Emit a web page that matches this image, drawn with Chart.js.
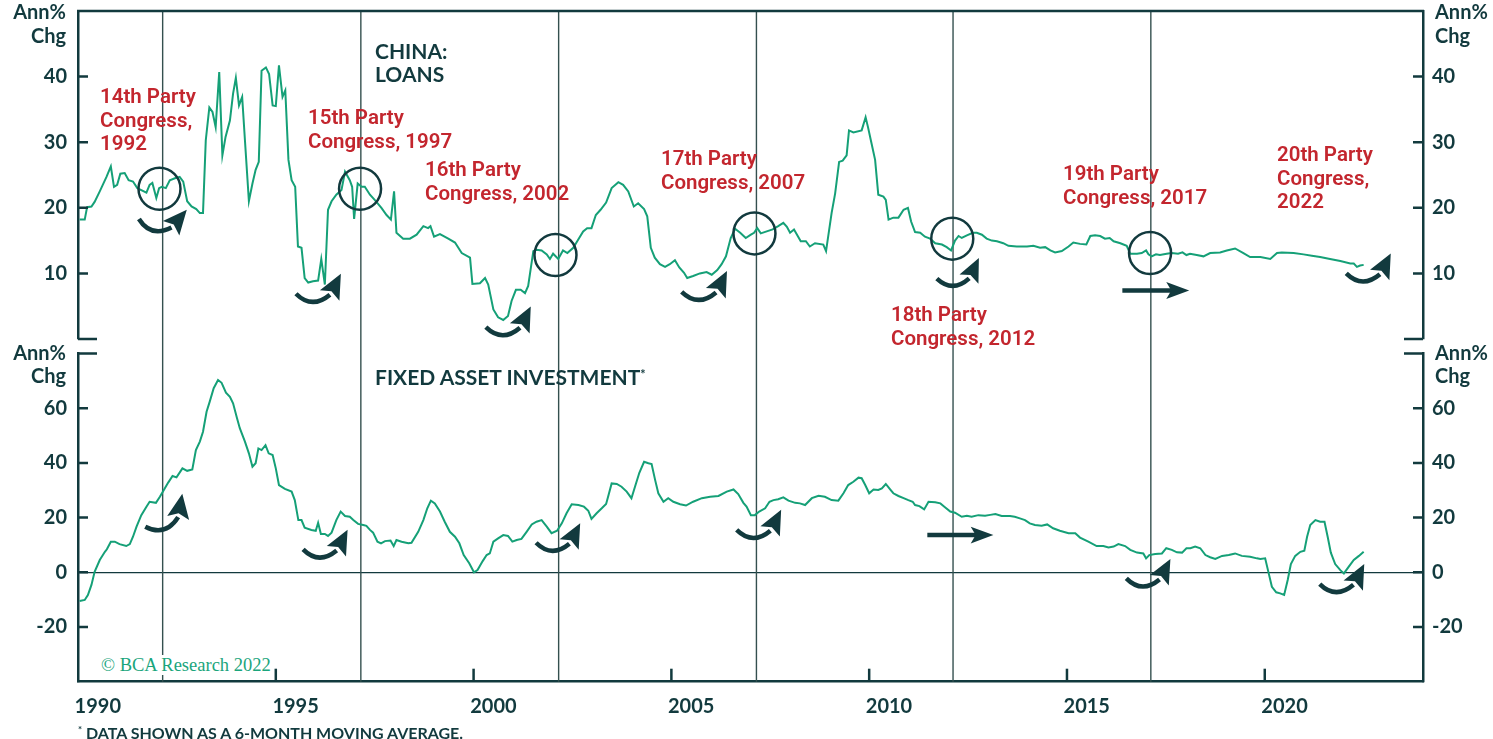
<!DOCTYPE html>
<html>
<head>
<meta charset="utf-8">
<script src="https://cdn.jsdelivr.net/npm/chart.js@4.4.0/dist/chart.umd.min.js"></script>
<style>
  body { margin: 0; background: #fff; }
  #wrap { position: relative; width: 1493px; height: 739px; overflow: hidden; font-family: Lato, sans-serif; color: #123a3e; }
  .box { position: absolute; left: 0; width: 1493px; }
  .t { position: absolute; white-space: nowrap; }
  .unit { font-weight: 700; font-size: 20px; line-height: 24px; }
  .title { font-weight: 700; font-size: 21px; line-height: 23px; }
  .red { color: #c3262e; font-family: Roboto, sans-serif; font-weight: 600; font-size: 20.5px; line-height: 23.5px; }
  .copy { font-family: "Liberation Serif", serif; font-size: 18.5px; color: #1aa57c; background: #fff; line-height: 20px; padding: 0 2px; }
  .foot { font-weight: 700; font-size: 16px; line-height: 16px; }
  sup { font-size: 60%; vertical-align: 6px; }
</style>
</head>
<body>
<div id="wrap">
  <div class="box" style="top:0;height:346px"><canvas id="loans"></canvas></div>
  <div class="box" style="top:346px;height:393px"><canvas id="fai"></canvas></div>

  <div class="t unit" style="left:0;width:66px;text-align:right;top:-1px">Ann%<br>Chg</div>
  <div class="t unit" style="left:1435px;top:-1px">Ann%<br>Chg</div>
  <div class="t unit" style="left:0;width:66px;text-align:right;top:341px;line-height:23px">Ann%<br>Chg</div>
  <div class="t unit" style="left:1435px;top:341px;line-height:23px">Ann%<br>Chg</div>

  <div class="t title" style="left:375px;top:39px">CHINA:<br>LOANS</div>
  <div class="t title" style="left:375px;top:363px">FIXED ASSET INVESTMENT<sup>*</sup></div>

  <div class="t red" style="left:100px;top:85px">14th Party<br>Congress,<br>1992</div>
  <div class="t red" style="left:308px;top:106px">15th Party<br>Congress, 1997</div>
  <div class="t red" style="left:425px;top:158px">16th Party<br>Congress, 2002</div>
  <div class="t red" style="left:661px;top:147px">17th Party<br>Congress, 2007</div>
  <div class="t red" style="left:891px;top:303px">18th Party<br>Congress, 2012</div>
  <div class="t red" style="left:1063px;top:162px">19th Party<br>Congress, 2017</div>
  <div class="t red" style="left:1277px;top:143px">20th Party<br>Congress,<br>2022</div>

  <div class="t copy" style="left:99px;top:655px">© BCA Research 2022</div>
  <div class="t foot" style="left:78px;top:722px"><sup>*</sup> DATA SHOWN AS A 6-MONTH MOVING AVERAGE.</div>
</div>

<script>
// China loans, annual % change
const loansDates = [
  1990.04, 1990.17, 1990.23, 1990.34, 1990.42, 1990.55, 1990.72, 1990.83, 1990.91, 1990.99,
  1991.07, 1991.18, 1991.28, 1991.39, 1991.50, 1991.60, 1991.73, 1991.81, 1991.88, 1991.98,
  1992.05, 1992.12, 1992.22, 1992.32, 1992.45, 1992.57, 1992.66, 1992.76, 1992.87, 1992.99,
  1993.08, 1993.16, 1993.23, 1993.32, 1993.40, 1993.48, 1993.57, 1993.65, 1993.73, 1993.84,
  1993.92, 1993.99, 1994.07, 1994.15, 1994.22, 1994.32, 1994.41, 1994.49, 1994.57, 1994.64,
  1994.75, 1994.83, 1994.92, 1995.00, 1995.08, 1995.17, 1995.24, 1995.32, 1995.40, 1995.49,
  1995.56, 1995.65, 1995.73, 1995.82, 1995.94, 1996.07, 1996.15, 1996.24, 1996.32, 1996.41,
  1996.53, 1996.66, 1996.75, 1996.87, 1996.93, 1996.98, 1997.07, 1997.17, 1997.25, 1997.38,
  1997.50, 1997.67, 1997.80, 1997.91, 1997.99, 1998.05, 1998.22, 1998.39, 1998.56, 1998.73,
  1998.85, 1998.91, 1999.00, 1999.15, 1999.36, 1999.53, 1999.70, 1999.91, 1999.97, 2000.16,
  2000.29, 2000.37, 2000.50, 2000.62, 2000.75, 2000.87, 2000.96, 2001.07, 2001.19, 2001.30,
  2001.38, 2001.51, 2001.59, 2001.72, 2001.85, 2001.93, 2002.01, 2002.14, 2002.26, 2002.37,
  2002.52, 2002.65, 2002.77, 2002.87, 2002.98, 2003.09, 2003.21, 2003.35, 2003.49, 2003.66,
  2003.78, 2003.91, 2004.05, 2004.16, 2004.31, 2004.39, 2004.48, 2004.58, 2004.71, 2004.84,
  2004.96, 2005.09, 2005.20, 2005.32, 2005.40, 2005.55, 2005.72, 2005.89, 2006.02, 2006.16,
  2006.27, 2006.38, 2006.50, 2006.61, 2006.74, 2006.88, 2007.01, 2007.09, 2007.17, 2007.26,
  2007.41, 2007.56, 2007.70, 2007.83, 2007.92, 2008.00, 2008.10, 2008.27, 2008.40, 2008.50,
  2008.63, 2008.84, 2008.91, 2009.05, 2009.14, 2009.24, 2009.33, 2009.43, 2009.49, 2009.60,
  2009.81, 2009.91, 2009.97, 2010.06, 2010.15, 2010.23, 2010.36, 2010.42, 2010.49, 2010.61,
  2010.74, 2010.87, 2010.98, 2011.06, 2011.16, 2011.29, 2011.41, 2011.54, 2011.67, 2011.84,
  2011.96, 2012.07, 2012.17, 2012.26, 2012.34, 2012.47, 2012.62, 2012.72, 2012.85, 2012.97,
  2013.10, 2013.23, 2013.39, 2013.52, 2013.73, 2013.99, 2014.15, 2014.32, 2014.45, 2014.58,
  2014.70, 2014.87, 2015.04, 2015.16, 2015.33, 2015.49, 2015.59, 2015.71, 2015.84, 2015.96,
  2016.08, 2016.18, 2016.35, 2016.51, 2016.60, 2016.77, 2016.89, 2017.00, 2017.06, 2017.14,
  2017.25, 2017.35, 2017.52, 2017.64, 2017.81, 2017.92, 2018.02, 2018.11, 2018.28, 2018.45,
  2018.62, 2018.87, 2019.04, 2019.25, 2019.46, 2019.63, 2019.89, 2020.14, 2020.31, 2020.43,
  2020.73, 2020.98, 2021.19, 2021.40, 2021.65, 2021.91, 2022.16, 2022.25, 2022.33, 2022.41,
  2022.50
];
const loansValues = [
  18.2, 18.2, 20.1, 20.2, 20.9, 22.5, 24.7, 26.3, 23.2, 23.5,
  25.2, 25.3, 24.2, 24.0, 23.0, 22.7, 22.3, 23.5, 23.8, 21.5,
  23.0, 23.2, 23.0, 24.2, 24.5, 24.7, 24.0, 21.0, 20.2, 19.8,
  19.2, 19.2, 30.3, 35.3, 34.6, 32.3, 40.7, 28.0, 30.8, 33.3,
  37.4, 39.8, 35.6, 36.9, 30.3, 21.0, 23.7, 25.8, 27.0, 40.9,
  41.4, 40.4, 35.6, 35.5, 41.7, 36.9, 37.9, 27.3, 24.2, 23.2,
  14.1, 13.9, 9.3, 8.6, 8.8, 8.9, 12.2, 8.3, 19.7, 21.0,
  22.0, 22.7, 25.5, 24.2, 23.2, 18.3, 23.7, 23.2, 23.2, 22.0,
  21.2, 20.0, 18.9, 18.2, 22.5, 16.2, 15.3, 15.3, 15.9, 17.2,
  16.9, 17.2, 15.6, 16.0, 15.3, 14.7, 13.1, 12.4, 8.4, 8.5,
  9.3, 8.3, 4.5, 3.3, 2.9, 3.5, 5.8, 7.5, 7.5, 7.0,
  8.1, 13.4, 13.6, 13.5, 12.9, 12.2, 13.0, 12.2, 13.5, 13.1,
  13.9, 15.2, 16.4, 16.9, 16.9, 18.9, 19.7, 20.8, 23.0, 23.9,
  23.5, 22.5, 20.2, 20.7, 19.8, 18.7, 13.9, 12.4, 11.4, 11.0,
  11.4, 12.0, 10.9, 10.1, 9.3, 9.6, 10.0, 10.2, 9.8, 10.5,
  11.4, 12.6, 15.4, 16.8, 16.2, 15.4, 15.9, 16.2, 16.9, 16.1,
  16.4, 16.7, 17.2, 17.7, 17.1, 16.2, 16.7, 14.9, 14.9, 14.1,
  14.6, 14.4, 13.4, 19.2, 22.2, 27.0, 27.2, 28.0, 31.8, 31.5,
  31.8, 33.8, 32.3, 29.8, 27.3, 22.0, 21.7, 21.2, 18.2, 18.5,
  18.5, 19.7, 20.0, 17.9, 16.3, 16.2, 15.6, 15.3, 14.6, 14.4,
  14.0, 13.5, 15.0, 15.7, 15.4, 15.8, 16.2, 16.2, 15.9, 15.3,
  15.0, 14.9, 14.6, 14.2, 14.1, 14.1, 14.2, 13.9, 14.0, 13.5,
  13.2, 13.4, 14.1, 14.7, 14.5, 14.4, 15.7, 15.8, 15.7, 15.3,
  15.4, 14.9, 14.6, 14.2, 13.0, 13.0, 13.1, 13.5, 12.9, 12.6,
  12.9, 12.8, 13.0, 13.1, 13.0, 13.2, 12.8, 13.0, 12.8, 12.6,
  13.1, 13.2, 13.5, 13.8, 13.1, 12.5, 12.5, 12.2, 13.1, 13.2,
  13.1, 12.9, 12.7, 12.5, 12.2, 11.9, 11.5, 11.5, 11.0, 11.2,
  11.3
];

// China fixed asset investment, annual % change (6-month moving average)
const faiDates = [
  1990.04, 1990.17, 1990.25, 1990.34, 1990.42, 1990.55, 1990.68, 1990.73, 1990.83, 1990.93,
  1991.05, 1991.22, 1991.31, 1991.39, 1991.48, 1991.60, 1991.73, 1991.81, 1991.97, 1992.07,
  1992.17, 1992.28, 1992.39, 1992.49, 1992.64, 1992.76, 1992.89, 1992.98, 1993.08, 1993.16,
  1993.25, 1993.33, 1993.43, 1993.54, 1993.63, 1993.74, 1993.84, 1993.92, 1994.02, 1994.09,
  1994.22, 1994.32, 1994.41, 1994.49, 1994.56, 1994.64, 1994.74, 1994.82, 1994.92, 1995.00,
  1995.08, 1995.23, 1995.40, 1995.48, 1995.57, 1995.65, 1995.73, 1995.90, 1996.01, 1996.07,
  1996.14, 1996.24, 1996.32, 1996.41, 1996.53, 1996.64, 1996.75, 1996.87, 1996.96, 1997.08,
  1997.21, 1997.29, 1997.38, 1997.46, 1997.57, 1997.66, 1997.76, 1997.90, 1997.98, 1998.05,
  1998.18, 1998.35, 1998.43, 1998.60, 1998.73, 1998.83, 1998.92, 1999.02, 1999.15, 1999.27,
  1999.40, 1999.53, 1999.64, 1999.75, 1999.89, 2000.01, 2000.10, 2000.23, 2000.33, 2000.41,
  2000.50, 2000.62, 2000.75, 2000.87, 2000.98, 2001.09, 2001.21, 2001.34, 2001.47, 2001.59,
  2001.72, 2001.85, 2001.97, 2002.11, 2002.23, 2002.35, 2002.48, 2002.65, 2002.79, 2002.90,
  2002.98, 2003.11, 2003.24, 2003.35, 2003.40, 2003.49, 2003.62, 2003.74, 2003.87, 2003.99,
  2004.08, 2004.19, 2004.31, 2004.42, 2004.50, 2004.59, 2004.67, 2004.80, 2004.92, 2005.05,
  2005.22, 2005.37, 2005.55, 2005.77, 2005.98, 2006.19, 2006.40, 2006.57, 2006.69, 2006.82,
  2006.90, 2007.01, 2007.11, 2007.22, 2007.37, 2007.48, 2007.58, 2007.70, 2007.83, 2007.96,
  2008.13, 2008.25, 2008.38, 2008.55, 2008.72, 2008.88, 2009.05, 2009.22, 2009.35, 2009.47,
  2009.60, 2009.73, 2009.81, 2009.90, 2010.00, 2010.11, 2010.23, 2010.32, 2010.42, 2010.53,
  2010.61, 2010.74, 2010.87, 2010.99, 2011.10, 2011.16, 2011.27, 2011.39, 2011.50, 2011.67,
  2011.80, 2011.90, 2012.05, 2012.17, 2012.34, 2012.47, 2012.59, 2012.76, 2012.93, 2013.06,
  2013.19, 2013.35, 2013.56, 2013.68, 2013.81, 2013.94, 2014.06, 2014.19, 2014.36, 2014.50,
  2014.65, 2014.82, 2015.04, 2015.21, 2015.33, 2015.54, 2015.75, 2015.92, 2016.05, 2016.18,
  2016.30, 2016.47, 2016.60, 2016.77, 2016.93, 2017.00, 2017.08, 2017.23, 2017.40, 2017.51,
  2017.65, 2017.78, 2017.91, 2018.02, 2018.12, 2018.24, 2018.37, 2018.50, 2018.62, 2018.75,
  2018.92, 2019.09, 2019.25, 2019.42, 2019.63, 2019.80, 2019.89, 2020.01, 2020.10, 2020.18,
  2020.29, 2020.39, 2020.49, 2020.58, 2020.66, 2020.77, 2020.90, 2021.00, 2021.07, 2021.15,
  2021.28, 2021.40, 2021.51, 2021.59, 2021.67, 2021.78, 2021.91, 2022.00, 2022.12, 2022.25,
  2022.38, 2022.50
];
const faiValues = [
  -10.5, -10.1, -8.3, -4.6, 0.2, 4.5, 7.5, 8.4, 11.2, 11.2,
  10.3, 9.6, 10.3, 13.0, 16.7, 20.9, 24.0, 25.8, 25.4, 27.6,
  30.1, 32.8, 35.2, 34.7, 38.0, 37.1, 37.6, 44.7, 47.8, 51.4,
  58.7, 62.4, 67.3, 70.3, 69.3, 65.7, 64.2, 61.8, 56.3, 52.7,
  47.8, 43.5, 38.6, 39.9, 45.3, 44.7, 46.5, 43.5, 42.9, 38.0,
  31.9, 30.5, 29.5, 26.4, 19.1, 19.1, 16.3, 15.5, 15.2, 18.1,
  14.0, 14.0, 13.3, 14.5, 19.1, 22.2, 20.6, 20.3, 19.1, 17.7,
  17.3, 17.0, 15.5, 14.5, 11.2, 10.6, 11.4, 11.6, 9.6, 11.8,
  11.2, 10.6, 10.8, 14.8, 19.1, 23.4, 26.2, 25.2, 22.2, 18.5,
  14.8, 13.0, 10.6, 6.3, 3.3, 0.0, 0.8, 4.1, 6.3, 6.9,
  11.2, 12.4, 13.6, 13.3, 11.2, 11.8, 12.2, 14.8, 17.5, 18.5,
  19.1, 16.7, 14.3, 15.2, 17.9, 21.6, 24.9, 24.6, 24.0, 22.5,
  19.5, 21.6, 23.4, 25.0, 27.6, 32.5, 32.3, 31.3, 29.5, 27.1,
  31.3, 36.4, 40.4, 39.9, 39.6, 33.7, 28.9, 25.8, 27.1, 25.8,
  24.9, 24.4, 25.8, 27.1, 27.6, 27.9, 29.5, 30.3, 28.6, 25.4,
  24.0, 20.9, 20.9, 22.2, 23.4, 25.8, 26.4, 26.7, 27.4, 26.2,
  25.4, 25.2, 24.6, 27.1, 28.0, 27.6, 26.4, 26.2, 28.9, 31.9,
  33.1, 34.6, 34.4, 31.9, 28.9, 30.3, 30.1, 30.7, 32.3, 30.3,
  28.9, 27.9, 27.1, 26.4, 25.8, 24.6, 24.2, 23.0, 25.8, 25.6,
  25.2, 24.0, 22.2, 21.8, 20.3, 20.7, 20.3, 20.9, 20.7, 21.0,
  21.3, 20.6, 20.6, 20.3, 19.7, 19.1, 17.9, 17.3, 17.0, 17.5,
  16.1, 15.2, 14.3, 14.3, 12.7, 11.2, 9.6, 9.6, 9.1, 9.4,
  10.3, 9.6, 8.2, 7.2, 6.9, 5.1, 6.3, 6.7, 6.9, 8.8,
  8.2, 7.3, 7.2, 8.8, 8.8, 9.4, 8.8, 6.3, 5.5, 4.9,
  6.0, 6.3, 6.9, 6.0, 5.7, 5.1, 4.9, 5.1, -0.4, -5.3,
  -7.3, -7.7, -8.3, -2.8, 3.0, 6.0, 7.5, 7.9, 13.0, 17.3,
  19.1, 18.5, 18.5, 13.0, 7.2, 3.0, 0.8, -0.4, 2.0, 4.5,
  6.0, 7.5
];

// Party congress markers (same x scale as the data)
const congressDates = [1992.14, 1997.15, 2002.15, 2007.15, 2012.12, 2017.12];

// circles on the loans line: [date, value]
const loansCircles = [[1992.06, 22.9], [1997.13, 22.9], [2002.07, 12.8], [2007.10, 16.1], [2012.10, 15.3], [2017.10, 13.1]];

// arrows: start [date, value], tip [date, value]
const loansArrows = [
  { s: [1991.54, 18.3], t: [1992.72, 19.6] },
  { s: [1995.51, 6.9],  t: [1996.62, 9.8] },
  { s: [2000.31, 1.8],  t: [2001.42, 4.8] },
  { s: [2005.26, 7.2],  t: [2006.38, 10.2] },
  { s: [2011.71, 9.2],  t: [2012.75, 12.2] },
  { s: [2016.40, 7.4],  t: [2018.09, 7.4], straight: true },
  { s: [2022.06, 10.0], t: [2023.16, 12.9] }
];
const faiArrows = [
  { s: [1991.70, 16.7], t: [1992.62, 28.3] },
  { s: [1995.69, 8.4],  t: [1996.79, 15.2] },
  { s: [2001.58, 10.8], t: [2002.67, 17.6] },
  { s: [2006.65, 15.5], t: [2007.75, 22.5] },
  { s: [2011.47, 13.6], t: [2013.14, 13.6], straight: true },
  { s: [2016.50, -2.2], t: [2017.59, 4.5] },
  { s: [2021.39, -4.3], t: [2022.49, 2.7] }
];

const loansTicks = [10, 20, 30, 40];
const faiTicks = [-20, 0, 20, 40, 60];
const yearTicks = [1990, 1995, 2000, 2005, 2010, 2015, 2020];

const dark = '#123a3e';
const green = '#15a077';
const tickFont = { family: 'Lato', size: 20, weight: 'bold' };

function drawArrow(ctx, S, T, straight) {
  const tipC = straight ? [67, 0] : [44, -19];
  const dx = T[0] - S[0], dy = T[1] - S[1];
  const ang = Math.atan2(dy, dx) - Math.atan2(tipC[1], tipC[0]);
  const k = Math.hypot(dx, dy) / Math.hypot(tipC[0], tipC[1]);
  const c = Math.cos(ang), s = Math.sin(ang);
  const m = p => [S[0] + k * (p[0] * c - p[1] * s), S[1] + k * (p[0] * s + p[1] * c)];
  ctx.beginPath();
  if (straight) {
    ctx.moveTo(...m([0, 0]));
    ctx.lineTo(...m([50, 0]));
  } else {
    ctx.moveTo(...m([0, 0]));
    const cp = m([16, 16]), e = m([34, 1]);
    ctx.quadraticCurveTo(cp[0], cp[1], e[0], e[1]);
  }
  ctx.stroke();
  const head = straight
    ? [[67, 0], [44, -8.5], [49, 0], [44, 8.5]]
    : [[45, -20], [24, -3.5], [35.5, -2.5], [43.5, 7]];
  ctx.beginPath();
  head.forEach((p, i) => { const q = m(p); i ? ctx.lineTo(q[0], q[1]) : ctx.moveTo(q[0], q[1]); });
  ctx.closePath();
  ctx.fill();
}

const decor = {
  id: 'decor',
  beforeDatasetsDraw(chart, args, opts) {
    const { ctx, chartArea: a, scales: { x } } = chart;
    ctx.save();
    ctx.strokeStyle = '#34504f';
    ctx.lineWidth = 1.4;
    congressDates.forEach(d => {
      const px = x.getPixelForValue(d);
      ctx.beginPath();
      ctx.moveTo(px, opts.top ? a.top : 0);
      ctx.lineTo(px, opts.top ? chart.height : a.bottom);
      ctx.stroke();
    });
    ctx.restore();
  },
  afterDraw(chart, args, opts) {
    const { ctx, chartArea: a, scales } = chart;
    const x = scales.x, y = scales.y;
    ctx.save();
    ctx.strokeStyle = dark;
    ctx.fillStyle = dark;
    ctx.lineWidth = 2.5;
    // inward tick marks on both value axes
    y.ticks.forEach(t => {
      const py = y.getPixelForValue(t.value);
      ctx.beginPath();
      ctx.moveTo(a.left, py); ctx.lineTo(a.left + 10, py);
      ctx.moveTo(a.right - 10, py); ctx.lineTo(a.right, py);
      ctx.stroke();
    });
    // panel break stubs / top frame
    const edge = opts.top ? a.bottom : a.top;
    ctx.beginPath();
    ctx.moveTo(a.left, edge); ctx.lineTo(a.left + 19, edge);
    ctx.moveTo(a.right - 19, edge); ctx.lineTo(a.right, edge);
    if (opts.top) { ctx.moveTo(a.left - 1, a.top); ctx.lineTo(a.right + 1, a.top); }
    ctx.stroke();
    // year tick marks pointing up
    if (!opts.top) {
      yearTicks.slice(1).forEach(v => {
        const px = x.getPixelForValue(v);
        ctx.beginPath();
        ctx.moveTo(px, a.bottom); ctx.lineTo(px, a.bottom - 13);
        ctx.stroke();
      });
    }
    // circles around the line at each congress
    (opts.circles || []).forEach(p => {
      ctx.beginPath();
      ctx.arc(x.getPixelForValue(p[0]), y.getPixelForValue(p[1]), 21, 0, Math.PI * 2);
      ctx.stroke();
    });
    // arrows
    ctx.lineWidth = 4.5;
    (opts.arrows || []).forEach(ar => {
      const S = [x.getPixelForValue(ar.s[0]), y.getPixelForValue(ar.s[1])];
      const T = [x.getPixelForValue(ar.t[0]), y.getPixelForValue(ar.t[1])];
      drawArrow(ctx, S, T, ar.straight);
    });
    ctx.restore();
  }
};

function yScale(min, max, ticks, pos, zeroLine) {
  return {
    type: 'linear', position: pos, min: min, max: max,
    afterBuildTicks: s => { s.ticks = ticks.map(v => ({ value: v })); },
    afterFit: s => { s.width = pos === 'left' ? 78 : 70; s.paddingTop = 0; s.paddingBottom = 0; },
    border: { display: true, color: dark, width: 2.5 },
    grid: {
      display: !!zeroLine, drawTicks: false, lineWidth: 1.3,
      color: c => (c.tick && c.tick.value === 0) ? dark : 'rgba(0,0,0,0)'
    },
    ticks: { color: dark, font: tickFont, padding: pos === 'left' ? 11 : 9 }
  };
}

function points(dates, values) {
  return dates.map((d, i) => ({ x: d, y: values[i] }));
}

const lineStyle = { borderColor: green, borderWidth: 2, pointRadius: 0, tension: 0, fill: false };

new Chart(document.getElementById('loans'), {
  type: 'line',
  data: { datasets: [Object.assign({ label: 'China: Loans', data: points(loansDates, loansValues), yAxisID: 'y' }, lineStyle)] },
  plugins: [decor],
  options: {
    responsive: true, maintainAspectRatio: false, animation: false,
    layout: { padding: { top: 11, bottom: 7, left: 0, right: 0 } },
    plugins: {
      legend: { display: false }, tooltip: { enabled: false },
      decor: { top: true, circles: loansCircles, arrows: loansArrows }
    },
    scales: {
      x: { type: 'linear', min: 1990, max: 2024, display: false },
      y: yScale(0, 50, loansTicks, 'left', false),
      y2: yScale(0, 50, loansTicks, 'right', false)
    }
  }
});

new Chart(document.getElementById('fai'), {
  type: 'line',
  data: { datasets: [Object.assign({ label: 'Fixed Asset Investment', data: points(faiDates, faiValues), yAxisID: 'y' }, lineStyle)] },
  plugins: [decor],
  options: {
    responsive: true, maintainAspectRatio: false, animation: false,
    layout: { padding: { top: 7.5, bottom: 0, left: 0, right: 0 } },
    plugins: {
      legend: { display: false }, tooltip: { enabled: false },
      decor: { top: false, arrows: faiArrows }
    },
    scales: {
      x: {
        type: 'linear', min: 1990, max: 2024, position: 'bottom',
        afterBuildTicks: s => { s.ticks = yearTicks.map(v => ({ value: v })); },
        afterFit: s => { s.height = 57.3; s.paddingLeft = 0; s.paddingRight = 0; },
        border: { display: true, color: dark, width: 2.5 },
        grid: { display: false },
        ticks: { color: dark, font: tickFont, padding: 5, labelOffset: 19.8, maxRotation: 0, autoSkip: false,
                 callback: v => String(v) }
      },
      y: yScale(-40, 80, faiTicks, 'left', true),
      y2: yScale(-40, 80, faiTicks, 'right', false)
    }
  }
});
</script>
</body>
</html>
